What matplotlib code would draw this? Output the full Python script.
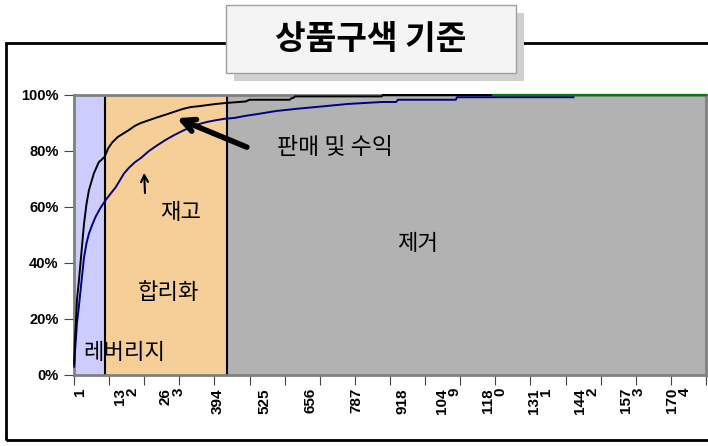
import numpy as np
import matplotlib
matplotlib.use("Agg")
import matplotlib.pyplot as plt
import matplotlib.transforms as mtransforms
from matplotlib.patches import Rectangle

plt.rcParams['font.family'] = ['Noto Sans CJK KR', 'DejaVu Sans']

# ---- data ----
n_items = 1800
# cumulative share of sales & profit (black), by item rank
sales_x = [1, 3, 6, 9, 14, 19, 24, 29, 36, 43, 50, 57, 64, 71, 80, 88, 98, 109, 125, 143, 157,
           174, 191, 214, 237, 262, 286, 310, 333, 356, 380, 405, 429, 490, 500, 615, 620, 625, 629,
           877, 880, 1194]
sales_y = [4, 12, 18.6, 27, 33, 40, 47, 54, 61, 66, 69, 72, 74, 76, 77, 78, 81, 83, 85, 86.4, 87.5,
           89, 90, 91, 92, 93, 94, 95, 95.7, 96, 96.4, 96.8, 97.1, 97.7, 98.3, 98.3, 98.9, 98.9, 99.5,
           99.5, 100, 100]
# cumulative share of item count / stock (navy)
stock_x = [1, 3, 6, 9, 14, 19, 24, 29, 36, 43, 52, 62, 75, 88, 103, 119, 131, 143, 157, 174, 191,
           214, 237, 262, 286, 310, 333, 356, 380, 405, 429, 457, 486, 523, 577, 637, 714, 780, 877,
           918, 923, 1088, 1091, 1423]
stock_y = [3, 8, 13, 18.6, 24, 30, 36, 42, 47, 50.5, 53.5, 56.5, 59.5, 62, 64.5, 67, 69.5, 72, 74, 76, 77.5,
           80, 82, 84, 85.7, 87.2, 88.6, 89.6, 90.4, 91, 91.5, 91.8, 92.5, 93.2, 94.3, 95.1, 96, 96.8, 97.5,
           97.5, 98.3, 98.3, 99.2, 99.2]
# tail series (green)
tail_x = [1194, 1800]
tail_y = [100, 100]

# item-rank boundaries of the three zones
zone_edges = [0.5, 90, 437, 1800.5]
zone_names = ["레버리지", "합리화", "제거"]
zone_colors = ["#ccccff", "#f6cf98", "#b2b2b2"]

tick_labels = ["1", "13\n2", "26\n3", "394", "525", "656", "787", "918",
               "104\n9", "118\n0", "131\n1", "144\n2", "157\n3", "170\n4"]
tick_pos = [1, 132, 263, 394, 525, 656, 787, 918, 1049, 1180, 1311, 1442, 1573, 1704]
y_ticks = [0, 20, 40, 60, 80, 100]

# ---- figure ----
fig = plt.figure(figsize=(7.08, 4.46), dpi=100)
W, H = 708, 446

# outer frame
fig.patches.append(Rectangle((6 / W, 6 / H), 720 / W, 397 / H, transform=fig.transFigure,
                             fill=False, edgecolor="black", lw=2, zorder=0))

ax = fig.add_axes([74 / W, 71 / H, 632 / W, 280 / H])

for i in range(3):
    ax.axvspan(zone_edges[i], zone_edges[i + 1], color=zone_colors[i], zorder=0, lw=0)
for e in zone_edges[1:3]:
    ax.axvline(e, color="black", lw=1.5, zorder=1)

ax.plot(stock_x, stock_y, color="#000080", lw=1.4, zorder=3, clip_on=False)
ax.plot(sales_x, sales_y, color="black", lw=1.4, zorder=4, clip_on=False)
ax.plot(tail_x, tail_y, color="#008000", lw=1.6, zorder=5, clip_on=False)

ax.set_xlim(0.5, n_items + 0.5)
ax.set_ylim(0, 100)

ax.set_xticks(np.arange(0.5, n_items + 1, 100))
ax.set_xticklabels([])
ax.tick_params(axis="x", direction="out", length=7, color="#444444")

# category labels, nudged right like the original
lab_tr = ax.get_xaxis_transform() + mtransforms.ScaledTranslation(6 / 100, -13 / 100, fig.dpi_scale_trans)
for p, t in zip(tick_pos, tick_labels):
    ax.text(p, 0, t, transform=lab_tr, rotation=90, fontsize=11, fontweight="bold",
            family="Liberation Sans", ha="center", va="top", multialignment="right",
            linespacing=0.85, clip_on=False)

ax.set_yticks(y_ticks)
ax.set_yticklabels([f"{v}%" for v in y_ticks], fontsize=10.5, fontweight="bold", family="Liberation Sans")
ax.tick_params(axis="y", direction="out", length=7, color="#444444", pad=4)

for s in ax.spines.values():
    s.set_color("#808080")
    s.set_linewidth(2)

# zone labels
ax.text(143, 8.2, zone_names[0], fontsize=16, ha="center", va="center", zorder=6)
ax.text(271, 29.3, zone_names[1], fontsize=16, ha="center", va="center", zorder=6)
ax.text(303, 57.9, "재고", fontsize=16, ha="center", va="center", zorder=6)
ax.text(980, 47, zone_names[2], fontsize=16, ha="center", va="center", zorder=6)
ax.text(743, 81.4, "판매 및 수익", fontsize=16.5, ha="center", va="center", zorder=6)

ax.annotate("", xy=(286, 92.1), xytext=(500, 81),
            arrowprops=dict(arrowstyle="->,head_length=0.9,head_width=0.45", lw=4, color="black"), zorder=7)
ax.annotate("", xy=(200, 73.2), xytext=(203, 64),
            arrowprops=dict(arrowstyle="->,head_length=0.5,head_width=0.25", lw=1.5, color="black"), zorder=7)

# title box with shadow
fig.patches.append(Rectangle((234 / W, (H - 81) / H), 290 / W, 68 / H, transform=fig.transFigure,
                             facecolor="#d0d0d0", edgecolor="none", zorder=2))
fig.patches.append(Rectangle((226 / W, (H - 73) / H), 290 / W, 68 / H, transform=fig.transFigure,
                             facecolor="#f4f4f4", edgecolor="#a0a0a0", lw=1, zorder=3))
fig.text(371 / W, (H - 40) / H, "상품구색 기준", fontsize=24, fontweight="bold",
         ha="center", va="center", zorder=4)

fig.savefig("out.png", dpi=100)
